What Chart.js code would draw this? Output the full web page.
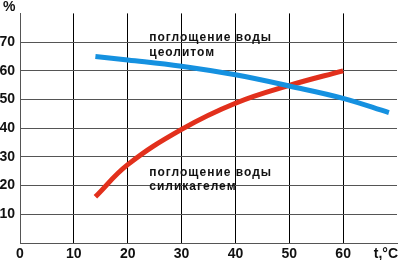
<!DOCTYPE html>
<html>
<head>
<meta charset="utf-8">
<script src="https://cdn.jsdelivr.net/npm/chart.js@4"></script>
<style>
  html, body { margin: 0; padding: 0; background: #fff; }
  #wrap { width: 400px; height: 260px; position: relative; }
</style>
</head>
<body>
<div id="wrap"><canvas id="chart"></canvas></div>
<script>
// data
var tempTicks = [0, 10, 20, 30, 40, 50, 60];
var percentTicks = [10, 20, 30, 40, 50, 60, 70];

var zeoliteT = [14, 20, 30, 40, 50, 60, 68.5];
var zeoliteVal = [65.0, 63.8, 61.6, 58.6, 54.7, 50.4, 45.4];

var silicaT = [14, 20, 30, 40, 50, 60];
var silicaVal = [16.1, 27.3, 39.6, 48.7, 54.9, 60.0];

var zeoliteLabel = ['поглощение воды', 'цеолитом'];
var silicaLabel = ['поглощение воды', 'силикагелем'];
var yUnit = '%';
var xUnit = 't,°C';

function toPoints(xs, ys) {
    return xs.map(function(x, i) { return { x: x, y: ys[i] }; });
}

// text that sits on the chart
var textPlugin = {
    id: 'texts',
    afterDraw: function(chart) {
        var ctx = chart.ctx;
        var xs = chart.scales.x, ys = chart.scales.y;
        ctx.save();
        ctx.fillStyle = '#111';
        ctx.textBaseline = 'alphabetic';
        ctx.font = 'bold 14px "Liberation Sans", Arial, sans-serif';
        ctx.textAlign = 'left';
        ctx.fillText(yUnit, 3, 11);
        ctx.textAlign = 'right';
        ctx.fillText(xUnit, 398, 258);

        ctx.font = 'bold 12px "Liberation Sans", Arial, sans-serif';
        ctx.letterSpacing = '1px';
        ctx.textAlign = 'left';
        var lx = xs.getPixelForValue(24);
        ctx.fillText(zeoliteLabel[0], lx, ys.getPixelForValue(80) + 28);
        ctx.fillText(zeoliteLabel[1], lx, ys.getPixelForValue(80) + 43);
        ctx.fillText(silicaLabel[0], lx, ys.getPixelForValue(80) + 163);
        ctx.fillText(silicaLabel[1], lx, ys.getPixelForValue(80) + 177);
        ctx.restore();
    }
};

var ctx = document.getElementById('chart').getContext('2d');
var myChart = new Chart(ctx, {
    type: 'line',
    data: {
        datasets: [{
            label: zeoliteLabel.join(' '),
            data: toPoints(zeoliteT, zeoliteVal),
            borderColor: '#1591e0',
            borderWidth: 5,
            pointRadius: 0,
            tension: 0.4,
            fill: false
        }, {
            label: silicaLabel.join(' '),
            data: toPoints(silicaT, silicaVal),
            borderColor: '#e2301c',
            borderWidth: 5,
            pointRadius: 0,
            tension: 0.4,
            fill: false
        }]
    },
    options: {
        responsive: true,
        maintainAspectRatio: false,
        animation: false,
        layout: { padding: { left: 0, right: 1, top: 0, bottom: 0 } },
        plugins: {
            legend: { display: false },
            tooltip: { enabled: false }
        },
        scales: {
            x: {
                type: 'linear',
                min: 0,
                max: 70,
                afterFit: function(scale) { scale.height = 17; },
                afterBuildTicks: function(scale) {
                    scale.ticks = tempTicks.concat([70]).map(function(v) { return { value: v }; });
                },
                ticks: {
                    padding: 3,
                    color: '#111',
                    font: { family: '"Liberation Sans", Arial, sans-serif', size: 14, weight: 'bold' },
                    callback: function(v) { return tempTicks.indexOf(v) >= 0 ? String(v) : ''; }
                },
                grid: {
                    drawTicks: false,
                    color: function(c) { return c.tick && c.tick.value === 70 ? 'rgba(0,0,0,0)' : '#000'; },
                    lineWidth: 1
                },
                border: { color: '#555', width: 1 }
            },
            y: {
                min: 0,
                max: 80,
                afterFit: function(scale) { scale.width = 20; },
                afterBuildTicks: function(scale) {
                    scale.ticks = [0].concat(percentTicks, [80]).map(function(v) { return { value: v }; });
                },
                ticks: {
                    padding: 5,
                    color: '#111',
                    font: { family: '"Liberation Sans", Arial, sans-serif', size: 14, weight: 'bold' },
                    callback: function(v) { return percentTicks.indexOf(v) >= 0 ? String(v) : ''; }
                },
                grid: {
                    drawTicks: false,
                    color: function(c) { return c.tick && c.tick.value === 80 ? 'rgba(0,0,0,0)' : '#555'; },
                    lineWidth: 1
                },
                border: { color: '#555', width: 1 }
            }
        }
    },
    plugins: [textPlugin]
});
</script>
</body>
</html>
